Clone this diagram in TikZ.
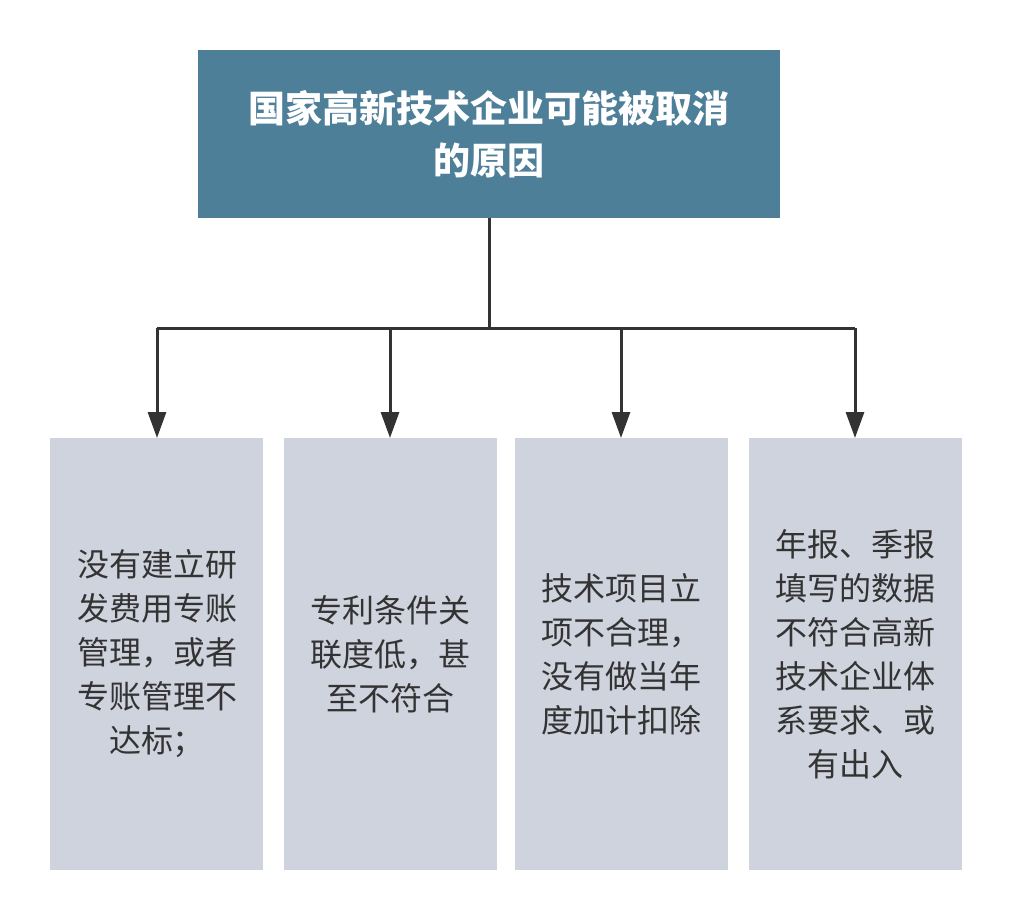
\documentclass[tikz,border=0pt]{standalone}
\usepackage{fontspec}
\newfontfamily\cjk{Noto Sans CJK SC}
\usetikzlibrary{arrows.meta}
\definecolor{topc}{HTML}{4E7F99}
\definecolor{boxc}{HTML}{CFD3DD}
\definecolor{linec}{HTML}{333333}
\begin{document}
\begin{tikzpicture}[x=1pt,y=-1pt,
  topbox/.style={fill=topc,draw=none,text=white,font=\cjk\bfseries\fontsize{37}{52}\selectfont,align=center},
  subbox/.style={fill=boxc,draw=none,text=linec,font=\cjk\fontsize{32}{44}\selectfont,align=center},
  conn/.style={draw=linec,line width=3pt,-{Triangle[length=26pt,width=18pt]}}]
\useasboundingbox (0,0) rectangle (1012,920);
\fill[topc] (198,50) rectangle (780,218);
\node[topbox] (t) at (489,134) {国家高新技术企业可能被取消\\的原因};
\coordinate (tb) at (489,218);
\coordinate (j) at (489,328);
\foreach \i/\a/\b in {1/50/263,2/284/497,3/515/728,4/749/962}{
  \fill[boxc] (\a,438) rectangle (\b,870);
}
\node[subbox] (b1) at (157,654) {没有建立研\\发费用专账\\管理，或者\\专账管理不\\达标；};
\node[subbox] (b2) at (390,654) {专利条件关\\联度低，甚\\至不符合};
\node[subbox] (b3) at (621,654) {技术项目立\\项不合理，\\没有做当年\\度加计扣除};
\node[subbox] (b4) at (855,654) {年报、季报\\填写的数据\\不符合高新\\技术企业体\\系要求、或\\有出入};
\coordinate (a1) at (157,438);
\coordinate (a2) at (390,438);
\coordinate (a3) at (621,438);
\coordinate (a4) at (855,438);
\draw[draw=linec,line width=3pt] (tb) -- (j);
\draw[draw=linec,line width=3pt] (157,328) -- (855,328);
\foreach \k in {1,2,3,4}{\draw[conn] (a\k |- j) -- (a\k);}
\end{tikzpicture}
\end{document}
